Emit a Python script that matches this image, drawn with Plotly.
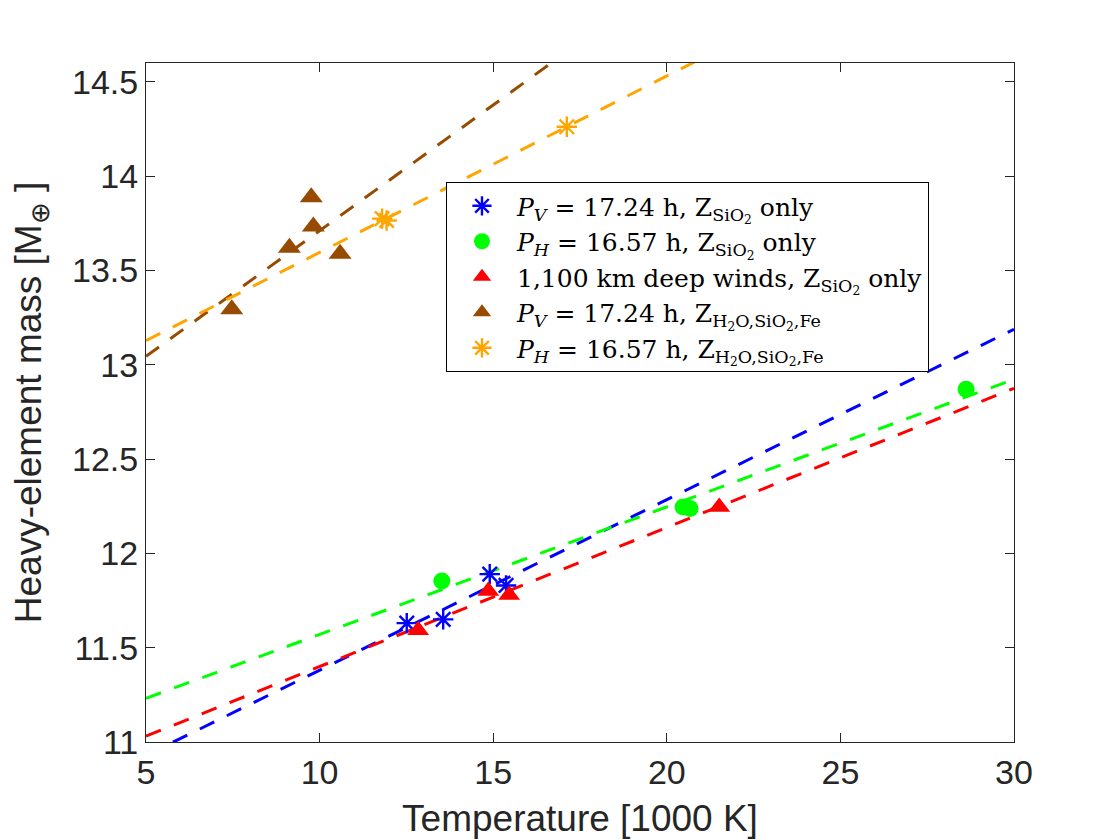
import numpy as np
import plotly.graph_objects as go

# temperatures [1000 K] and heavy-element masses [M_earth]
t_pv_sio2 = [12.51, 13.56, 14.90, 15.37]
m_pv_sio2 = [11.630, 11.65, 11.89, 11.830]

t_ph_sio2 = [13.52, 20.47, 20.67, 28.62]
m_ph_sio2 = [11.854, 12.246, 12.238, 12.87]

t_deep_sio2 = [12.84, 14.86, 15.46, 21.51]
m_deep_sio2 = [11.593, 11.80, 11.78, 12.246]

t_pv_mix = [7.47, 9.13, 9.76, 9.82, 10.59]
m_pv_mix = [13.295, 13.62, 13.888, 13.733, 13.588]

t_ph_mix = [11.80, 11.93, 17.12]
m_ph_mix = [13.775, 13.765, 14.262]

x_range = [5, 30]
y_range = [11, 14.6]

names = [
    "<i>P<sub>V</sub></i> = 17.24 h, Z<sub>SiO<sub>2</sub></sub> only",
    "<i>P<sub>H</sub></i> = 16.57 h, Z<sub>SiO<sub>2</sub></sub> only",
    "1,100 km deep winds, Z<sub>SiO<sub>2</sub></sub> only",
    "<i>P<sub>V</sub></i> = 17.24 h, Z<sub>H<sub>2</sub>O,SiO<sub>2</sub>,Fe</sub>",
    "<i>P<sub>H</sub></i> = 16.57 h, Z<sub>H<sub>2</sub>O,SiO<sub>2</sub>,Fe</sub>",
]

groups = [
    (t_pv_sio2, m_pv_sio2, "#0000ff", "asterisk-open", 17),
    (t_ph_sio2, m_ph_sio2, "#00ff00", "circle", 17),
    (t_deep_sio2, m_deep_sio2, "#ff0000", "triangle-up", 19),
    (t_pv_mix, m_pv_mix, "#964b00", "triangle-up", 20),
    (t_ph_mix, m_ph_mix, "#ffa500", "asterisk-open", 17),
]

fig = go.Figure()

# dashed least-squares lines first, then the points on top
for t, m, col, sym, sz in groups:
    p = np.polyfit(t, m, 1)
    xf = np.array(x_range, dtype=float)
    fig.add_trace(go.Scatter(x=xf, y=np.polyval(p, xf), mode="lines",
                             line=dict(color=col, width=3, dash="16px,14px"),
                             showlegend=False, hoverinfo="skip"))

for (t, m, col, sym, sz), name in zip(groups, names):
    if sym == "asterisk-open":
        mk = dict(symbol=sym, size=sz, color=col, line=dict(color=col, width=2.4))
    else:
        mk = dict(symbol=sym, size=sz, color=col, line=dict(width=0))
    fig.add_trace(go.Scatter(x=t, y=m, mode="markers", name=name, marker=mk))

axis_col = "#262626"
fig.update_layout(
    width=1120, height=840,
    paper_bgcolor="white", plot_bgcolor="white",
    margin=dict(l=138, r=114, t=55, b=106),
    font=dict(family="Liberation Sans, Arial, sans-serif", color=axis_col),
    legend=dict(x=0.3456, y=0.8247, xanchor="left", yanchor="top",
                bgcolor="white", bordercolor="black", borderwidth=1,
                font=dict(family="DejaVu Serif, Liberation Serif, serif",
                          size=25, color="black"),
                itemwidth=60, tracegroupgap=0),
)
fig.update_xaxes(range=x_range, tickvals=[5, 10, 15, 20, 25, 30],
                 showgrid=False, zeroline=False,
                 showline=True, linecolor=axis_col, linewidth=1, mirror="ticks",
                 ticks="inside", ticklen=9, tickcolor=axis_col,
                 tickfont=dict(size=34, color=axis_col),
                 title=dict(text="Temperature [1000 K]", font=dict(size=37, color=axis_col),
                            standoff=15))
fig.update_yaxes(range=y_range, tickvals=[11, 11.5, 12, 12.5, 13, 13.5, 14, 14.5],
                 ticktext=["11", "11.5", "12", "12.5", "13", "13.5", "14", "14.5"],
                 showgrid=False, zeroline=False,
                 showline=True, linecolor=axis_col, linewidth=1, mirror="ticks",
                 ticks="inside", ticklen=9, tickcolor=axis_col,
                 tickfont=dict(size=34, color=axis_col),
                 title=dict(text="Heavy-element mass [M<sub>⊕</sub> ]",
                            font=dict(size=37, color=axis_col), standoff=20))

fig.write_html("out.html")
